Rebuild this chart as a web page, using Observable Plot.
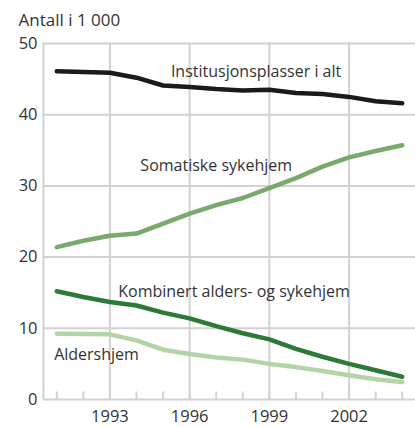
<!DOCTYPE html>
<html>
<head>
<meta charset="utf-8">
<script src="https://cdn.jsdelivr.net/npm/d3@7"></script>
<script src="https://cdn.jsdelivr.net/npm/@observablehq/plot@0.6"></script>
<style>
  html, body { margin: 0; padding: 0; background: #fff; }
  svg { display: block; }
</style>
</head>
<body>
<div id="chart"></div>
<script>
const years = [1991,1992,1993,1994,1995,1996,1997,1998,1999,2000,2001,2002,2003,2004];
const institusjonsplasser = [46.1,46.0,45.9,45.2,44.1,43.9,43.6,43.4,43.5,43.05,42.9,42.5,41.9,41.6];
const somatiske = [21.4,22.3,23.0,23.3,24.7,26.1,27.3,28.3,29.7,31.1,32.7,34.0,34.9,35.7];
const kombinert = [15.2,14.4,13.7,13.2,12.2,11.4,10.3,9.3,8.45,7.1,6.0,5.0,4.1,3.2];
const aldershjem = [9.25,9.2,9.15,8.3,7.0,6.4,5.9,5.6,5.0,4.55,4.0,3.4,2.85,2.45];
const seriesNames = ["Institusjonsplasser i alt","Somatiske sykehjem","Kombinert alders- og sykehjem","Aldershjem"];
const seriesColors = ["#1a1a1a","#79a96d","#2b7b36","#b4d4a8"];
const xTickLabels = [1993,1996,1999,2002];
const yTickLabels = [0,10,20,30,40,50];
const yTitle = "Antall i 1 000";
// label anchor points in data coordinates
const labelX = [1998.5, 1997.0, 1997.67, 1990.9];
const labelY = [46.0, 32.8, 15.1, 6.3];
const labelAnchor = ["middle","middle","middle","start"];

const allSeries = [institusjonsplasser, somatiske, kombinert, aldershjem];
const data = [];
allSeries.forEach((vals, i) => vals.forEach((v, j) => data.push({series: seriesNames[i], year: years[j], value: v})));
const labels = seriesNames.map((s, i) => ({text: s, x: labelX[i], y: labelY[i], anchor: labelAnchor[i]}));

const grid = "#d2d2d2";
const font = "'Open Sans', sans-serif";

const chart = Plot.plot({
  width: 415,
  height: 427,
  marginLeft: 43,
  marginRight: 0,
  marginTop: 43,
  marginBottom: 28,
  style: {fontFamily: font, color: "#333", background: "#fff"},
  x: {domain: [1990.5, 2004.5], axis: null},
  y: {domain: [0, 50], axis: null},
  color: {domain: seriesNames, range: seriesColors},
  marks: [
    Plot.ruleY(yTickLabels, {stroke: grid, strokeWidth: 2}),
    Plot.ruleX(xTickLabels, {stroke: grid, strokeWidth: 2}),
    Plot.ruleX([1990.5], {stroke: grid, strokeWidth: 2}),
    Plot.ruleX(years, {x: d => d, y1: 0, y2: 1.05, stroke: grid, strokeWidth: 2}),
    Plot.axisY({ticks: yTickLabels, tickSize: 0, tickPadding: 6, fontSize: 16.5, label: null}),
    Plot.axisX({ticks: xTickLabels, tickSize: 0, tickPadding: 11, fontSize: 16.5, tickFormat: d => String(d), label: null}),
    Plot.line(data, {x: "year", y: "value", z: "series", stroke: "series", strokeWidth: 4.5, strokeLinejoin: "round", strokeLinecap: "round"}),
    Plot.text(labels.filter(d => d.anchor === "middle"), {x: "x", y: "y", text: "text", textAnchor: "middle", fontSize: 16, fill: "#333"}),
    Plot.text(labels.filter(d => d.anchor === "start"), {x: "x", y: "y", text: "text", textAnchor: "start", fontSize: 16, fill: "#333"}),
    Plot.text([yTitle], {frameAnchor: "top-left", dx: -25, dy: -23, textAnchor: "start", fontSize: 17, fill: "#333", lineAnchor: "middle"})
  ]
});
document.getElementById("chart").appendChild(chart);
</script>
</body>
</html>
